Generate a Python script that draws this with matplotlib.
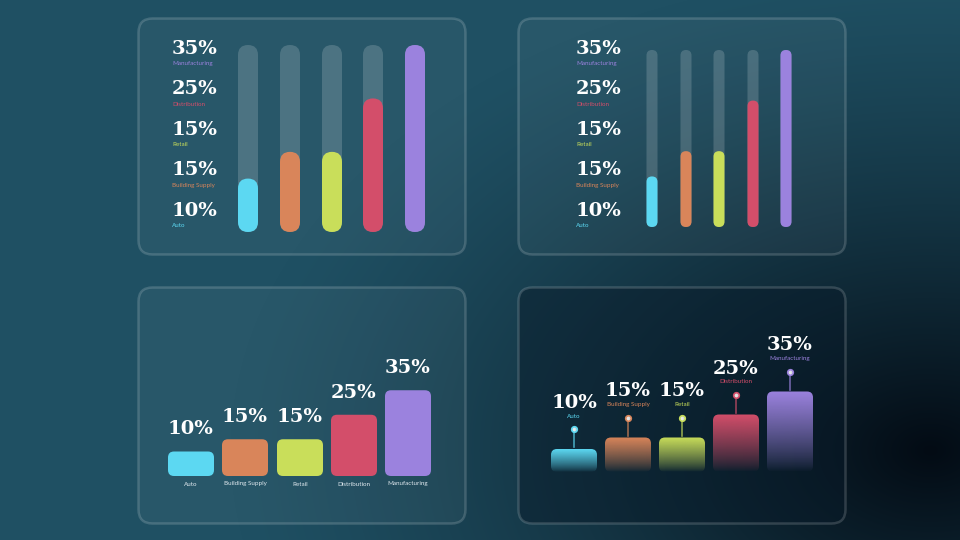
import numpy as np
import matplotlib.pyplot as plt
from matplotlib.patches import FancyBboxPatch
from matplotlib.colors import to_rgb

categories = ['Auto', 'Building Supply', 'Retail', 'Distribution', 'Manufacturing']
values = [10, 15, 15, 25, 35]
colors = ['#5cd8f2', '#d9855a', '#c9de5a', '#d34e6a', '#9b82de']

SERIF = 'DejaVu Serif'
SANS = 'Lato'

fig = plt.figure(figsize=(9.6, 5.4), dpi=100)
bg = fig.add_axes([0, 0, 1, 1])
bg.set_axis_off()
yy, xx = np.mgrid[0:540, 0:960]
d = np.sqrt(((xx - 930) / 700.0) ** 2 + ((yy - 450) / 480.0) ** 2)
t = np.clip(1 - d, 0, 1) ** 1.3
top = np.array(to_rgb('#1f5063'))
dark = np.array(to_rgb('#030b14'))
img = top[None, None, :] * (1 - t[..., None]) + dark[None, None, :] * t[..., None]
bg.imshow(img, extent=[0, 960, 540, 0], aspect='auto')
bg.set_xlim(0, 960); bg.set_ylim(540, 0)


def panel(x, y, dark_fill=False):
    ax = fig.add_axes([x / 960, 1 - (y + 240) / 540, 330 / 960, 240 / 540])
    ax.set_xlim(0, 330); ax.set_ylim(240, 0)
    ax.set_axis_off()
    fc = (0.03, 0.10, 0.16, 0.45) if dark_fill else (1, 1, 1, 0.045)
    ax.add_patch(FancyBboxPatch((1.5, 1.5), 327, 236, boxstyle='round,pad=0,rounding_size=14',
                                fc=fc, ec=(1, 1, 1, 0.16), lw=1.8))
    return ax


def pill(ax, cx, w, y0, y1, color, alpha=1.0):
    ax.add_patch(FancyBboxPatch((cx - w / 2, y0), w, y1 - y0,
                                boxstyle='round,pad=0,rounding_size=%f' % (w / 2),
                                fc=color, ec='none', alpha=alpha))


def pct(ax, x, y, v, ha):
    ax.text(x, y, f'{v}%', color='white', fontsize=14, family=SERIF, weight='bold',
            va='center', ha=ha)


def side_labels(ax, lx, ys):
    for i, yv in enumerate(ys):
        k = 4 - i
        pct(ax, lx, yv, values[k], 'left')
        ax.text(lx, yv + 15, categories[k], color=colors[k], fontsize=4.5, family=SANS,
                va='center', ha='left')


# panel 1: thick vertical pills
ax1 = panel(137, 17)
side_labels(ax1, 35, [32, 72, 113, 153, 194])
vmax = max(values)
for cx, v, c in zip([111, 153, 195, 236, 278], values, colors):
    y0, y1 = 28, 215
    pill(ax1, cx, 20, y0, y1, 'white', 0.17)
    pill(ax1, cx, 20, y1 - (y1 - y0) * v / vmax, y1, c)

# panel 2: thin vertical pills
ax2 = panel(517, 17)
side_labels(ax2, 59, [32, 72, 113, 153, 194])
for cx, v, c in zip([135, 169, 202, 236, 269], values, colors):
    y0, y1 = 33, 210
    pill(ax2, cx, 11, y0, y1, 'white', 0.17)
    pill(ax2, cx, 11, y1 - (y1 - y0) * v / vmax, y1, c)

# panel 3: rounded column chart
ax3 = panel(137, 286)
base, scale = 190, 2.45
for cx, v, c, name in zip([54, 108, 163, 217, 271], values, colors, categories):
    h = v * scale
    ax3.add_patch(FancyBboxPatch((cx - 23, base - h), 46, h,
                                 boxstyle='round,pad=0,rounding_size=6', fc=c, ec='none'))
    pct(ax3, cx, base - h - 22, v, 'center')
    ax3.text(cx, base + 8, name, color='#dfe8ee', fontsize=4.5, family=SANS,
             ha='center', va='center')

# panel 4: fading columns with pins
ax4 = panel(517, 286, dark_fill=True)
base, scale = 186, 2.3
for cx, v, c, name in zip([57, 111, 165, 219, 273], values, colors, categories):
    h = v * scale
    top_y = base - h
    patch = FancyBboxPatch((cx - 23, top_y), 46, h,
                           boxstyle='round,pad=0,rounding_size=6', fc='none', ec='none')
    ax4.add_patch(patch)
    rgb = np.array(to_rgb(c))
    grad = np.zeros((64, 1, 4))
    grad[..., :3] = rgb
    grad[:, 0, 3] = np.linspace(1.0, 0.0, 64) ** 0.8
    im = ax4.imshow(grad, extent=[cx - 23, cx + 23, base, top_y], aspect='auto', zorder=2)
    im.set_clip_path(patch)
    dot_y = top_y - 20
    ax4.plot([cx, cx], [dot_y, top_y - 2], color=c, lw=1.2, alpha=0.7, zorder=3)
    ax4.plot(cx, dot_y, 'o', ms=4, mfc=(1, 1, 1, 0.85), mec=c, mew=1.2, zorder=4)
    ax4.text(cx, dot_y - 13, name, color=c, fontsize=4.5, family=SANS,
             ha='center', va='center')
    pct(ax4, cx, dot_y - 26, v, 'center')
ax4.set_xlim(0, 330); ax4.set_ylim(240, 0)

fig.savefig('out.png', dpi=100)
